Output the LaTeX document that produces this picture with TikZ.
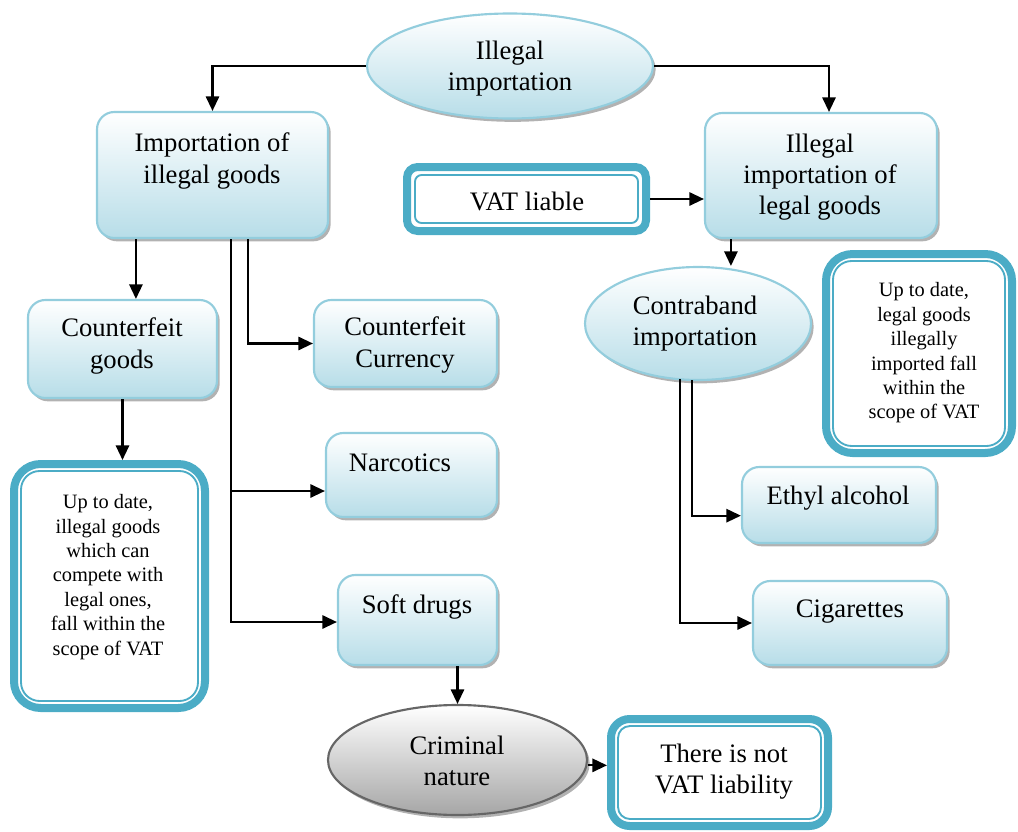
\documentclass[tikz,border=0pt]{standalone}
\usepackage{fontspec}
\setmainfont{Liberation Serif}
\usetikzlibrary{shapes.geometric,arrows.meta,shadows,calc}
\definecolor{bord}{HTML}{93CDDD}
\definecolor{lblue}{HTML}{B7DDE8}
\definecolor{tealc}{HTML}{4BACC6}
\definecolor{gbord}{HTML}{666666}
\definecolor{gfill}{HTML}{A6A6A6}
\newcommand{\bigtxt}{\fontsize{20}{23.3}\selectfont}
\newcommand{\smalltxt}{\fontsize{15.3}{18.3}\selectfont}
\begin{document}
\begin{tikzpicture}[x=0.75pt,y=-0.75pt,
  shd/.style={drop shadow={shadow xshift=2pt,shadow yshift=-2.5pt,fill=black,opacity=0.3}},
  bluebox/.style={rectangle,rounded corners=13pt,draw=bord,line width=1.6pt,top color=white,bottom color=lblue,shd,inner sep=0pt},
  blueell/.style={ellipse,draw=bord,line width=1.6pt,top color=white,bottom color=lblue,shd,inner sep=0pt},
  greyell/.style={ellipse,draw=gbord,line width=1.6pt,top color=white,bottom color=gfill,shd,inner sep=0pt},
  dblbox/.style={rectangle,draw=tealc,line width=6pt,fill=white,inner sep=0pt},
  dblin/.style={draw=tealc,line width=1.4pt},
  txt/.style={align=center,inner sep=0pt,font=\bigtxt},
  stxt/.style={align=center,inner sep=0pt,font=\smalltxt},
  arr/.style={line width=1.6pt,-{Triangle[length=11pt,width=10pt]}},
  lin/.style={line width=1.6pt}
]
\useasboundingbox (0,0) rectangle (1018,832);

% ellipses
\node[blueell,minimum width=214.5pt,minimum height=78.75pt] (top) at (510,66) {};
\node[txt] (topt) at (510,69) {Illegal\\importation};
\node[blueell,minimum width=169.5pt,minimum height=84.75pt] (contra) at (698,323.5) {};
\node[txt] (contrat) at (695,324) {Contraband\\importation};
\node[greyell,minimum width=194.25pt,minimum height=82.5pt] (crim) at (457.5,760) {};
\node[txt] (crimt) at (457,761) {Criminal\\nature};

% blue boxes
\node[bluebox,minimum width=173.25pt,minimum height=94.5pt] (b1) at (212.5,175) {};
\node[txt] (b1t) at (212,161) {Importation of\\illegal goods};
\node[bluebox,minimum width=174pt,minimum height=93.75pt] (b2) at (821,175.5) {};
\node[txt] (b2t) at (820,177) {Illegal\\importation of\\legal goods};
\node[bluebox,minimum width=141.75pt,minimum height=73.5pt] (cg) at (122.5,349) {};
\node[txt] (cgt) at (122,346) {Counterfeit\\goods};
\node[bluebox,minimum width=137.25pt,minimum height=65.25pt] (cc) at (405.5,343.5) {};
\node[txt] (cct) at (405,345) {Counterfeit\\Currency};
\node[bluebox,minimum width=128.25pt,minimum height=63pt] (narc) at (411.5,475) {};
\node[txt] (narct) at (400,463) {Narcotics};
\node[bluebox,minimum width=119.25pt,minimum height=67.5pt] (sd) at (417.5,620) {};
\node[txt] (sdt) at (417,607) {Soft drugs};
\node[bluebox,minimum width=145.5pt,minimum height=57pt] (eth) at (839,505) {};
\node[txt] (etht) at (838,498) {Ethyl alcohol};
\node[bluebox,minimum width=145.5pt,minimum height=63pt] (cig) at (850,623) {};
\node[txt] (cigt) at (850,612) {Cigarettes};

% double boxes
\node[dblbox,rounded corners=8pt,minimum width=179.25pt,minimum height=48pt] (vat) at (526.5,199) {};
\draw[dblin,rounded corners=5pt] ([shift={(12,12)}]vat.north west) rectangle ([shift={(-12,-12)}]vat.south east);
\node[txt] (vatt) at (527,201) {VAT liable};

\node[dblbox,rounded corners=20pt,minimum width=143.25pt,minimum height=183pt] (lbox) at (109.5,586) {};
\draw[dblin,rounded corners=14pt] ([shift={(11,11)}]lbox.north west) rectangle ([shift={(-11,-11)}]lbox.south east);
\node[stxt] (lboxt) at (108,577) {Up to date,\\illegal goods\\which can\\compete with\\legal ones,\\fall within the\\scope of VAT};

\node[dblbox,rounded corners=20pt,minimum width=139.5pt,minimum height=149.25pt] (rbox) at (919,353.5) {};
\draw[dblin,rounded corners=14pt] ([shift={(11,11)}]rbox.north west) rectangle ([shift={(-11,-11)}]rbox.south east);
\node[stxt] (rboxt) at (924,353) {Up to date,\\legal goods\\illegally\\imported fall\\within the\\scope of VAT};

\node[dblbox,rounded corners=14pt,minimum width=162.75pt,minimum height=80.25pt] (nvat) at (719.5,772.5) {};
\draw[dblin,rounded corners=9pt] ([shift={(11,11)}]nvat.north west) rectangle ([shift={(-11,-11)}]nvat.south east);
\node[txt] (nvatt) at (724,772) {There is not\\VAT liability};

% connectors
\draw[arr] (top.west) -| (b1.north);
\draw[arr] (top.east) -| ([xshift=6pt]b2.north);
\draw[arr] (vat.east) -- (vat.east -| b2.west);

\coordinate (s1) at ($(b1.south west)+(40,0)$);
\coordinate (s2) at ($(b1.south west)+(135,0)$);
\coordinate (s3) at ($(b1.south west)+(152,0)$);
\draw[arr] (s1) -- (s1 |- cg.north);
\draw[arr] (s3) |- (cc.west);
\draw[arr] (s2) |- ([yshift=-1.5pt]sd.west);
\coordinate (nb) at ([yshift=-12pt]narc.west);
\draw[arr] (s2 |- nb) -- (nb);

\draw[arr] (cg.south) -- (cg.south |- lbox.north);
\draw[arr] (crim.north |- sd.south) -- (crim.north);
\draw[arr] ([yshift=-4pt]crim.east) -- ([yshift=-4pt]crim.east -| nvat.west);

\coordinate (s4) at ($(b2.south west)+(27,0)$);
\draw[arr] (s4) -- (s4 |- contra.north);
\coordinate (s5) at ($(contra.south)+(-6,-1)$);
\coordinate (s6) at ($(contra.south)+(-18,-2)$);
\draw[arr] (s5) |- ([yshift=-8pt]eth.west);
\draw[arr] (s6) |- (cig.west);
\end{tikzpicture}
\end{document}
